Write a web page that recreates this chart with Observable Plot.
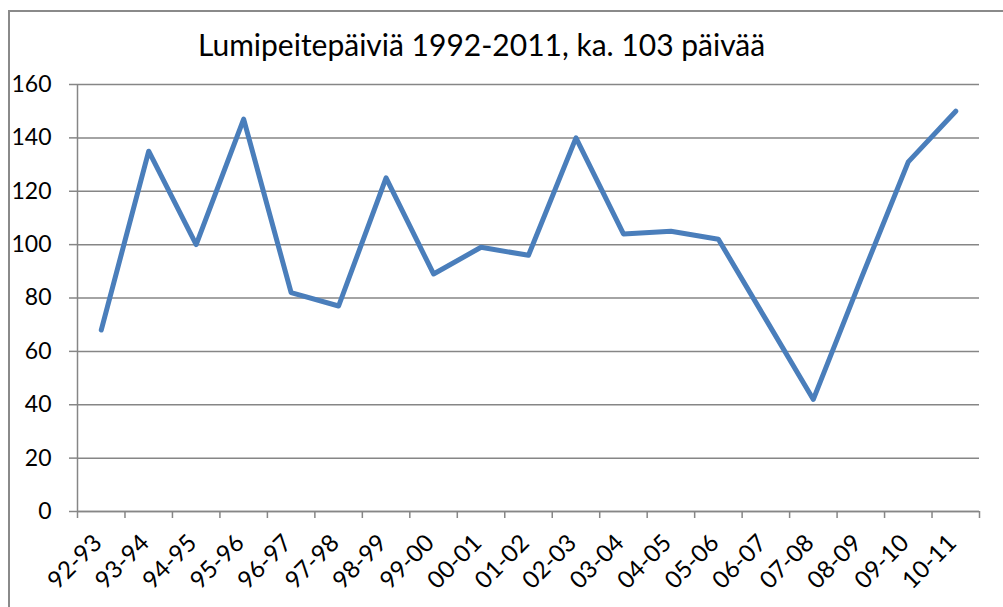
<!DOCTYPE html>
<html>
<head>
<meta charset="utf-8">
<script src="https://cdn.jsdelivr.net/npm/d3@7"></script>
<script src="https://cdn.jsdelivr.net/npm/@observablehq/plot@0.6"></script>
<style>
  html, body { margin: 0; padding: 0; background: #fff; }
  #wrap { position: relative; width: 1003px; height: 607px; overflow: hidden; font-family: Lato, sans-serif; }
  #frame { position: absolute; left: 8px; top: 10px; width: 1100px; height: 700px; border-left: 2px solid #8a8a8a; border-top: 2px solid #8a8a8a; }
  #title { position: absolute; left: 0; top: 27px; width: 963px; text-align: center; font-size: 30px; line-height: 34px; color: #000; }
  #chart { position: absolute; left: 0; top: 0; }
</style>
</head>
<body>
<div id="wrap">
  <div id="frame"></div>
  <div id="chart"></div>
  <div id="title">Lumipeitepäiviä 1992-2011, ka. 103 päivää</div>
</div>
<script>
const categories = ["92-93","93-94","94-95","95-96","96-97","97-98","98-99","99-00","00-01","01-02","02-03","03-04","04-05","05-06","06-07","07-08","08-09","09-10","10-11"];
const values = [68,135,100,147,82,77,125,89,99,96,140,104,105,102,72,42,87,131,150];
const yTicks = [0,20,40,60,80,100,120,140,160];

const data = categories.map((c, i) => ({i, c, v: values[i]}));
const n = categories.length;

const chart = Plot.plot({
  width: 1003,
  height: 607,
  marginLeft: 77,
  marginRight: 24,
  marginTop: 84,
  marginBottom: 96,
  style: {fontFamily: "Lato, sans-serif", background: "transparent", color: "#000"},
  x: {type: "linear", domain: [-0.5, n - 0.5], axis: null},
  y: {domain: [0, 160], axis: null},
  marks: [
    Plot.gridY(yTicks, {stroke: "#868686", strokeOpacity: 1, strokeWidth: 1.5}),
    Plot.axisY({ticks: yTicks, tickSize: 8, tickPadding: 18, stroke: "#868686", strokeWidth: 1.5, fill: "#000", fontSize: 23, label: null}),
    Plot.ruleX([-0.5], {stroke: "#868686", strokeWidth: 1.5}),
    Plot.ruleY([0], {stroke: "#868686", strokeWidth: 1.5}),
    Plot.axisX({ticks: d3.range(-0.5, n, 1), tickSize: 7, tickFormat: () => "", stroke: "#868686", strokeWidth: 1.5, label: null}),
    Plot.text(data, {x: "i", text: "c", frameAnchor: "bottom", rotate: -45, textAnchor: "end", dy: 33, dx: 2, fontSize: 24, fill: "#000"}),
    Plot.line(data, {x: "i", y: "v", stroke: "#4A7EBB", strokeWidth: 5, strokeLinejoin: "round", strokeLinecap: "round"})
  ]
});
document.getElementById("chart").appendChild(chart);
</script>
</body>
</html>
